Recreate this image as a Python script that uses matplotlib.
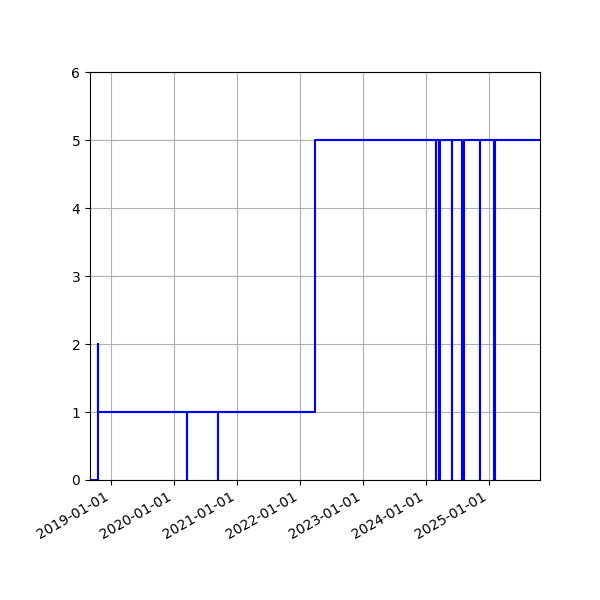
import matplotlib
matplotlib.use("Agg")
import matplotlib.pyplot as plt
import matplotlib.dates as mdates
import pandas as pd

# Change points of the step series (value holds until next date)
dates = ['2018-08-31', '2018-10-16', '2018-10-18',
         '2020-03-14', '2020-03-16', '2020-09-12', '2020-09-14',
         '2022-03-26',
         '2024-02-26', '2024-02-28', '2024-03-19', '2024-03-22',
         '2024-05-28', '2024-06-02', '2024-07-26', '2024-08-06',
         '2024-11-07', '2024-11-11', '2025-01-29', '2025-02-03',
         '2025-10-23']
values = [0, 2, 1,
          0, 1, 0, 1,
          5,
          0, 5, 0, 5,
          0, 5, 0, 5,
          0, 5, 0, 5,
          5]
y_ticks = [0, 1, 2, 3, 4, 5, 6]

x = pd.to_datetime(dates)

fig, ax = plt.subplots(figsize=(6, 6), dpi=100)
ax.step(x, values, where='post', color='blue')
ax.set_xlim(x[0], x[-1])
ax.set_ylim(0, 6)
ax.set_yticks(y_ticks)
ax.xaxis.set_major_locator(mdates.YearLocator())
ax.xaxis.set_major_formatter(mdates.DateFormatter('%Y-%m-%d'))
ax.grid(True)
fig.autofmt_xdate()
fig.subplots_adjust(left=0.15, right=0.9, top=0.88, bottom=0.2)
fig.savefig('out.png', dpi=100)
